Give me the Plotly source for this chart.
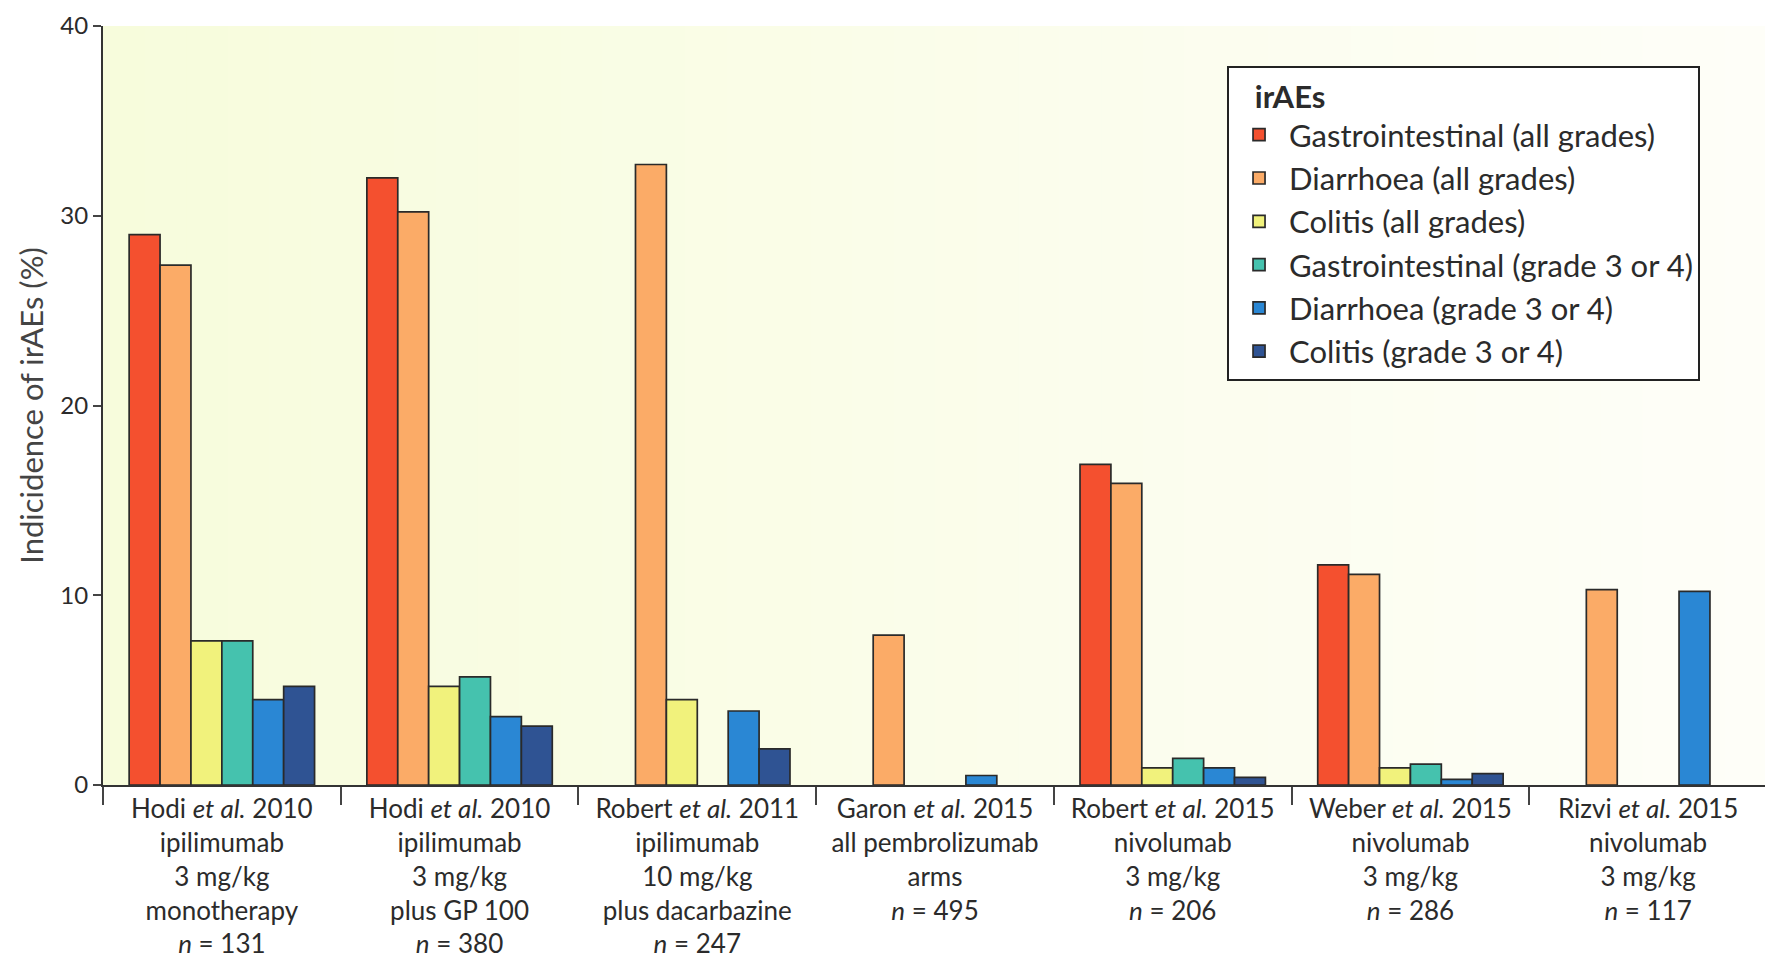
import plotly.graph_objects as go

studies = ["Hodi 2010 mono", "Hodi 2010 GP100", "Robert 2011", "Garon 2015",
           "Robert 2015", "Weber 2015", "Rizvi 2015"]
tick_labels = [
    "Hodi <i>et al.</i> 2010<br>ipilimumab<br>3 mg/kg<br>monotherapy<br><i>n</i> = 131",
    "Hodi <i>et al.</i> 2010<br>ipilimumab<br>3 mg/kg<br>plus GP 100<br><i>n</i> = 380",
    "Robert <i>et al.</i> 2011<br>ipilimumab<br>10 mg/kg<br>plus dacarbazine<br><i>n</i> = 247",
    "Garon <i>et al.</i> 2015<br>all pembrolizumab<br>arms<br><i>n</i> = 495",
    "Robert <i>et al.</i> 2015<br>nivolumab<br>3 mg/kg<br><i>n</i> = 206",
    "Weber <i>et al.</i> 2015<br>nivolumab<br>3 mg/kg<br><i>n</i> = 286",
    "Rizvi <i>et al.</i> 2015<br>nivolumab<br>3 mg/kg<br><i>n</i> = 117",
]

series_names = [
    "Gastrointestinal (all grades)",
    "Diarrhoea (all grades)",
    "Colitis (all grades)",
    "Gastrointestinal (grade 3 or 4)",
    "Diarrhoea (grade 3 or 4)",
    "Colitis (grade 3 or 4)",
]
gi_all = [29.0, 32.0, None, None, 16.9, 11.6, None]
diarrhoea_all = [27.4, 30.2, 32.7, 7.9, 15.9, 11.1, 10.3]
colitis_all = [7.6, 5.2, 4.5, None, 0.9, 0.9, None]
gi_g34 = [7.6, 5.7, None, None, 1.4, 1.1, None]
diarrhoea_g34 = [4.5, 3.6, 3.9, 0.5, 0.9, 0.3, 10.2]
colitis_g34 = [5.2, 3.1, 1.9, None, 0.4, 0.6, None]
series_values = [gi_all, diarrhoea_all, colitis_all, gi_g34, diarrhoea_g34, colitis_g34]

colors = ["#f4502f", "#fbab67", "#f1f27c", "#45c2ae", "#2a87d4", "#2f5393"]

y_ticks = [0, 10, 20, 30, 40]

fig = go.Figure()
for i, (name, vals, col) in enumerate(zip(series_names, series_values, colors)):
    fig.add_trace(go.Bar(
        x=studies, y=vals, name=name,
        marker=dict(color=col, line=dict(color="#2a2a2a", width=1.7)),
    ))

# background gradient (left light yellow -> right near white)
n_bands = 40
c0 = (247, 252, 220)
c1 = (254, 254, 248)
shapes = []
for k in range(n_bands):
    t = k / (n_bands - 1)
    c = tuple(round(c0[j] + (c1[j] - c0[j]) * t) for j in range(3))
    shapes.append(dict(
        type="rect", xref="x domain", yref="y domain",
        x0=k / n_bands, x1=(k + 1) / n_bands + 0.002, y0=0, y1=1,
        fillcolor=f"rgb{c}", line=dict(width=0), layer="below",
    ))

font_family = "Lato, 'Open Sans', sans-serif"
fig.update_layout(
    width=1765, height=960,
    margin=dict(l=95, r=6, t=18, b=183),
    paper_bgcolor="white",
    plot_bgcolor="rgba(0,0,0,0)",
    barmode="group",
    bargap=0.22,
    bargroupgap=0,
    shapes=shapes,
    font=dict(family=font_family, color="#2b2b2b", size=24),
    legend=dict(
        x=0.6755, y=0.9476, xanchor="left", yanchor="top",
        bgcolor="white", bordercolor="#222", borderwidth=2,
        font=dict(size=31, color="#2b2b2b"),
        title=dict(text="&nbsp;&nbsp;&nbsp;<b>irAEs</b>", font=dict(size=31, color="#2b2b2b")),
        tracegroupgap=0,
        itemwidth=50,
    ),
    xaxis=dict(
        type="category",
        tickvals=studies, ticktext=tick_labels,
        tickson="boundaries",
        ticks="outside", ticklen=18, tickwidth=1.5, tickcolor="#444",
        showline=True, linecolor="#333", linewidth=2,
        tickfont=dict(size=26, color="#2b2b2b"),
        range=[-0.5, 6.5],
        showgrid=False,
        automargin=False,
        ticklabeloverflow="allow",
    ),
    yaxis=dict(
        range=[0, 40],
        tickvals=y_ticks,
        ticks="outside", ticklen=8, tickwidth=1.5, tickcolor="#444",
        showline=True, linecolor="#333", linewidth=2,
        showgrid=False, zeroline=False,
        tickfont=dict(size=24, color="#2b2b2b"),
        title=dict(text="Indicidence of irAEs (%)", font=dict(size=31, color="#444"), standoff=8),
        automargin=False,
        ticklabeloverflow="allow",
    ),
)

fig.write_html("out.html")
